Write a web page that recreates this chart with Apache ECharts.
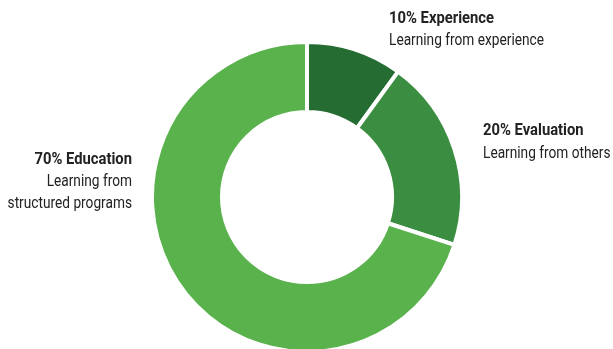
<!DOCTYPE html>
<html><head><meta charset="utf-8">
<script src="https://cdn.jsdelivr.net/npm/echarts@6/dist/echarts.min.js"></script>
<style>html,body{margin:0;padding:0;background:#fff}#c{width:613px;height:349px}</style>
</head><body><div id="c"></div>
<script>
var categories = ['Experience', 'Evaluation', 'Education'];
var values = [10, 20, 70];
var subtitles = ['Learning from experience', 'Learning from others', 'Learning from\nstructured programs'];
var colors = ['#246c31', '#3b8d41', '#59b24c'];
var FONT = 'Roboto, sans-serif';
var SIZE = 17;

var ctx = document.createElement('canvas').getContext('2d');
ctx.font = SIZE + 'px ' + FONT;
var sx = 155 / ctx.measureText('Learning from experience').width;
ctx.font = 'bold ' + SIZE + 'px ' + FONT;
var sxb = 105 / ctx.measureText('10% Experience').width;

var chart = echarts.init(document.getElementById('c'), null, {renderer: 'canvas'});
function txt(x, y, text, bold, align) {
  return {type: 'text', x: x, y: y, scaleX: bold ? sxb : sx, style: {x: 0, y: 0, text: text, fill: '#222', font: (bold ? 'bold ' : '') + SIZE + 'px ' + FONT, textAlign: align, textVerticalAlign: 'top', lineHeight: 22}};
}
var g = [];
g.push(txt(389, 8, values[0] + '% ' + categories[0], true, 'left'));
g.push(txt(389, 30, subtitles[0], false, 'left'));
g.push(txt(483, 120, values[1] + '% ' + categories[1], true, 'left'));
g.push(txt(483, 143, subtitles[1], false, 'left'));
g.push(txt(132, 149, values[2] + '% ' + categories[2], true, 'right'));
g.push(txt(132, 171, subtitles[2], false, 'right'));

chart.setOption({
  animation: false,
  graphic: g,
  series: [{
    type: 'pie',
    center: [307, 197],
    radius: [85, 155],
    startAngle: 90,
    clockwise: true,
    label: {show: false},
    labelLine: {show: false},
    itemStyle: {borderColor: '#fff', borderWidth: 4},
    emphasis: {disabled: true},
    data: categories.map(function (c, i) { return {name: c, value: values[i], itemStyle: {color: colors[i]}}; })
  }]
});
</script></body></html>
